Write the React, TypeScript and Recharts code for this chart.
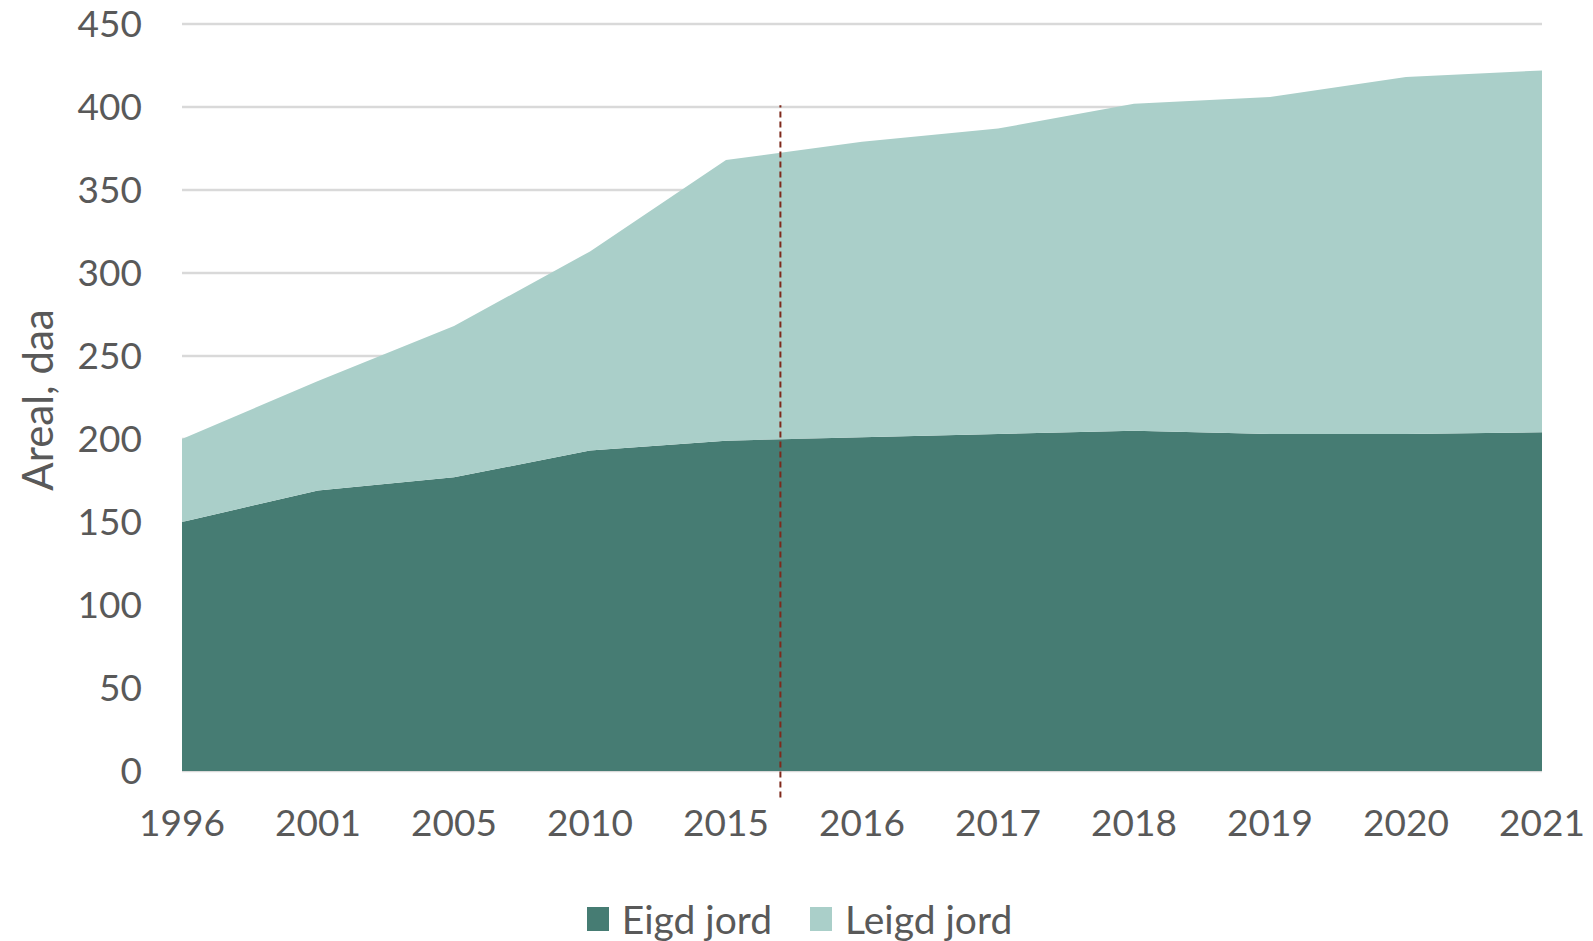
import {
  AreaChart,
  Area,
  XAxis,
  YAxis,
  CartesianGrid,
  Legend,
  ReferenceLine,
} from 'recharts';

const years = ['1996', '2001', '2005', '2010', '2015', '2016', '2017', '2018', '2019', '2020', '2021'];
const eigdJord = [150, 169, 177, 193, 199, 201, 203, 205, 203, 203, 204];
const leigdJord = [50, 66, 91, 120, 169, 178, 184, 197, 203, 215, 218];
const yTicks = [0, 50, 100, 150, 200, 250, 300, 350, 400, 450];
// the dashed break line sits a bit after 2015 (in category steps)
const breakAt = 4.4;

const data = years.map((year, i) => ({
  idx: i,
  year,
  eigd: eigdJord[i],
  leigd: leigdJord[i],
}));

const FONT = 'Lato, "Open Sans", sans-serif';
const TEXT = '#595959';
const DARK = '#467C73';
const LIGHT = '#AACFC9';

function LegendBox() {
  const items = [
    { name: 'Eigd jord', color: DARK },
    { name: 'Leigd jord', color: LIGHT },
  ];
  return (
    <div
      style={{
        display: 'flex',
        justifyContent: 'center',
        alignItems: 'center',
        height: 40,
        gap: 38,
        paddingLeft: 6,
        fontFamily: FONT,
        fontSize: 39,
        color: TEXT,
      }}
    >
      {items.map((it) => (
        <div key={it.name} style={{ display: 'flex', alignItems: 'center' }}>
          <span
            style={{
              display: 'inline-block',
              width: 22,
              height: 24,
              background: it.color,
              marginRight: 13,
            }}
          />
          <span>{it.name}</span>
        </div>
      ))}
    </div>
  );
}

export default function App() {
  return (
    <div style={{ position: 'absolute', left: 0, top: 0, background: '#fff' }}>
      <AreaChart
        width={1593}
        height={941}
        data={data}
        margin={{ top: 24, right: 51, left: 0, bottom: 2 }}
      >
        <CartesianGrid vertical={false} stroke="#D9D9D9" strokeWidth={2.5} />
        <XAxis
          dataKey="idx"
          type="number"
          domain={[0, 10]}
          ticks={years.map((_, i) => i)}
          tickFormatter={(i: number) => years[i]}
          axisLine={false}
          tickLine={false}
          tickSize={0}
          tickMargin={39}
          height={128}
          interval={0}
          tick={{ fill: TEXT, fontSize: 37, fontFamily: FONT }}
        />
        <YAxis
          domain={[0, 450]}
          ticks={yTicks}
          width={182}
          axisLine={false}
          tickLine={false}
          tickSize={0}
          tickMargin={40}
          tick={{ fill: TEXT, fontSize: 37, fontFamily: FONT }}
          label={{
            content: () => (
              <text
                x={37}
                y={400}
                transform="rotate(-90 37 400)"
                textAnchor="middle"
                dominantBaseline="central"
                fill={TEXT}
                fontSize={42}
                fontFamily={FONT}
              >
                Areal, daa
              </text>
            ),
          }}
        />
        <Area
          type="linear"
          dataKey="eigd"
          name="Eigd jord"
          stackId="1"
          stroke="none"
          fill={DARK}
          fillOpacity={1}
          isAnimationActive={false}
        />
        <Area
          type="linear"
          dataKey="leigd"
          name="Leigd jord"
          stackId="1"
          stroke="none"
          fill={LIGHT}
          fillOpacity={1}
          isAnimationActive={false}
        />
        <ReferenceLine
          segment={[
            { x: breakAt, y: -16 },
            { x: breakAt, y: 401 },
          ]}
          stroke="#7F2A1C"
          strokeWidth={2}
          strokeDasharray="6 4"
          ifOverflow="visible"
        />
        <Legend
          verticalAlign="bottom"
          wrapperStyle={{ left: 0, width: 1593 }}
          content={() => <LegendBox />}
        />
      </AreaChart>
    </div>
  );
}
